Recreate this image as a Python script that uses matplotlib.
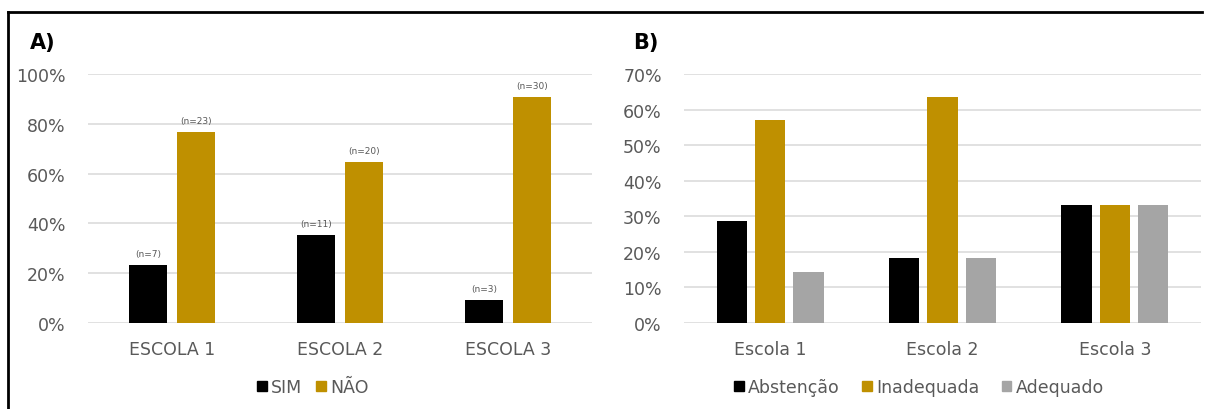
import numpy as np
import matplotlib
matplotlib.use("Agg")
import matplotlib.pyplot as plt
from matplotlib.lines import Line2D
from matplotlib.patches import Patch

# Painel A: respostas SIM / NÃO por escola
escolas_a = ["ESCOLA 1", "ESCOLA 2", "ESCOLA 3"]
n_sim = [7, 11, 3]
n_nao = [23, 20, 30]
pct_sim = [23.3, 35.5, 9.1]
pct_nao = [76.7, 64.5, 90.9]

# Painel B: classificação das respostas por escola
escolas_b = ["Escola 1", "Escola 2", "Escola 3"]
abstencao = [28.6, 18.2, 33.3]
inadequada = [57.1, 63.6, 33.3]
adequado = [14.3, 18.2, 33.3]

PRETO = "#000000"
DOURADO = "#BF9000"
CINZA = "#A5A5A5"
TEXTO = "#595959"
GRADE = "#D9D9D9"

plt.rcParams["font.family"] = ["DejaVu Sans"]

fig = plt.figure(figsize=(12.08, 4.10), dpi=100)
W, H = 1208, 410


def eixo(x0, x1, y0, y1):
    return fig.add_axes([x0 / W, 1 - y1 / H, (x1 - x0) / W, (y1 - y0) / H])


def estilo(ax, ymax, passo, labels):
    ax.set_xlim(-0.5, 2.5)
    ax.set_ylim(0, ymax)
    ax.set_yticks(np.arange(0, ymax + 0.1, passo))
    ax.set_yticklabels([f"{int(v)}%" for v in np.arange(0, ymax + 0.1, passo)])
    ax.set_xticks(range(3))
    ax.set_xticklabels(labels)
    ax.tick_params(length=0, colors=TEXTO, labelsize=12.5)
    ax.tick_params(axis="y", pad=16)
    ax.tick_params(axis="x", pad=12)
    for s in ax.spines.values():
        s.set_visible(False)
    ax.yaxis.grid(True, color=GRADE, linewidth=1.1)
    ax.set_axisbelow(True)


# --- A ---
axA = eixo(88, 592, 75, 324)
x = np.arange(3)
w = 0.226
desl = 0.143
bA1 = axA.bar(x - desl, pct_sim, w, color=PRETO)
bA2 = axA.bar(x + desl, pct_nao, w, color=DOURADO)
for barras, ns in ((bA1, n_sim), (bA2, n_nao)):
    for b, n in zip(barras, ns):
        axA.annotate(f"(n={n})", (b.get_x() + b.get_width() / 2, b.get_height()),
                     xytext=(0, 5), textcoords="offset points",
                     ha="center", va="bottom", fontsize=6.5, color=TEXTO)
estilo(axA, 100, 20, escolas_a)
fig.text(30 / W, 1 - 43 / H, "A)", fontsize=15, fontweight="bold", va="center")
fig.legend(handles=[Patch(color=PRETO, label="SIM"), Patch(color=DOURADO, label="NÃO")],
           loc="center", bbox_to_anchor=(313 / W, 1 - 388 / H), ncol=2, frameon=False,
           fontsize=12.5, labelcolor=TEXTO, handlelength=0.55, handleheight=0.55,
           handletextpad=0.25, columnspacing=0.8)

# --- B ---
axB = eixo(684, 1201, 75, 324)
wb = 0.175
db = 0.222
axB.bar(x - db, abstencao, wb, color=PRETO)
axB.bar(x, inadequada, wb, color=DOURADO)
axB.bar(x + db, adequado, wb, color=CINZA)
estilo(axB, 70, 10, escolas_b)
fig.text(633 / W, 1 - 43 / H, "B)", fontsize=15, fontweight="bold", va="center")
fig.legend(handles=[Patch(color=PRETO, label="Abstenção"),
                    Patch(color=DOURADO, label="Inadequada"),
                    Patch(color=CINZA, label="Adequado")],
           loc="center", bbox_to_anchor=(919 / W, 1 - 388 / H), ncol=3, frameon=False,
           fontsize=12.5, labelcolor=TEXTO, handlelength=0.55, handleheight=0.55,
           handletextpad=0.25, columnspacing=1.3)

# moldura (esquerda e topo)
fig.add_artist(Line2D([8 / W, 8 / W], [0, 1 - 13 / H], color="black", lw=2))
fig.add_artist(Line2D([8 / W, 1202 / W], [1 - 13 / H, 1 - 13 / H], color="black", lw=2))

fig.savefig("out.png", dpi=100)
